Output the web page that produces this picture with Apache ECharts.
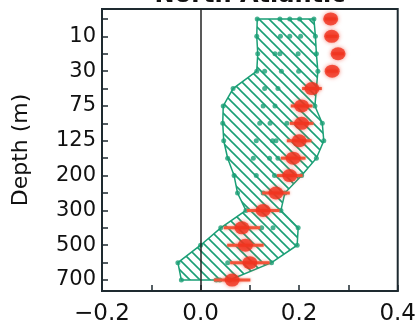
<!DOCTYPE html>
<html><head><meta charset="utf-8">
<script src="https://cdn.jsdelivr.net/npm/echarts@6/dist/echarts.min.js"></script>
<style>html,body{margin:0;padding:0;background:#fff}#c{width:419px;height:328px}</style>
</head><body><div id="c"></div>
<script>
// Depth levels (equally spaced rows), only every other one labelled
const depthLabels = ['5','10','20','30','50','75','100','125','150','200','250','300','400','500','600','700'];
const labelledRows = [1,3,5,7,9,11,13,15];
const xTicks = [-0.2,-0.1,0.0,0.1,0.2,0.3,0.4];
const titleText = 'North Atlantic';
const yName = 'Depth (m)';
// Observed trend per depth row and its error half-width
const obsTrend = [0.264,0.266,0.279,0.267,0.226,0.205,0.205,0.200,0.188,0.181,0.153,0.127,0.084,0.091,0.100,0.064];
const obsError = [0.012,0.012,0.012,0.012,0.020,0.022,0.024,0.025,0.025,0.026,0.028,0.033,0.037,0.037,0.040,0.037];
// Model values per depth row (green dots); envelope = hatched region
const modelTrends = [
 [0.115,0.161,0.181,0.201,0.230],
 [0.114,0.162,0.181,0.203,0.233],
 [0.116,0.151,0.161,0.198,0.235],
 [0.114,0.130,0.164,0.199,0.238],
 [0.066,0.130,0.157,0.235],
 [0.046,0.127,0.151,0.232],
 [0.045,0.120,0.141,0.175,0.247],
 [0.047,0.113,0.146,0.153,0.250],
 [0.055,0.107,0.140,0.157,0.235],
 [0.068,0.113,0.150,0.205],
 [0.075,0.127,0.171],
 [0.092,0.163],
 [0.041,0.124,0.147,0.198],
 [0.000,0.196],
 [-0.046,0.055,0.144],
 [-0.039,0.032,0.039,0.059]
];

const GREEN = '#1a9f76';
const RED = '#f0321e';
const DARK = '#1e2a30';
const FONT = 'DejaVu Sans';

const leftEnv = modelTrends.map(a => Math.min(...a));
const rightEnv = modelTrends.map(a => Math.max(...a));
const dotData = [];
modelTrends.forEach((arr, i) => arr.forEach(v => dotData.push([v, i])));
const obsData = obsTrend.map((v, i) => [v, i]);
const errData = obsTrend.map((v, i) => [v - obsError[i], v + obsError[i], i]);

// hatch pattern tile
const tile = document.createElement('canvas');
const S = 10; tile.width = S; tile.height = S;
const tc = tile.getContext('2d');
tc.strokeStyle = GREEN; tc.lineWidth = 1.6;
[-S, 0, S].forEach(c => { tc.beginPath(); tc.moveTo(-2, -2 + c); tc.lineTo(S + 2, S + 2 + c); tc.stroke(); });

const chart = echarts.init(document.getElementById('c'), null, {renderer: 'canvas'});
chart.setOption({
  animation: false,
  backgroundColor: '#fff',
  grid: {left: 102, right: 21, top: 9, bottom: 37, show: true, borderColor: DARK, borderWidth: 2, backgroundColor: 'transparent'},
  graphic: [{
    type: 'text', x: 250, y: 7.5,
    style: {text: titleText, font: 'bold 24px "DejaVu Sans"', fill: '#111', textAlign: 'center', textVerticalAlign: 'bottom'}
  }],
  xAxis: {
    type: 'value', min: xTicks[0], max: xTicks[xTicks.length - 1], interval: 0.1,
    axisLine: {show: true, onZero: false, lineStyle: {color: DARK, width: 2}},
    axisTick: {show: true, inside: true, length: 6, lineStyle: {color: DARK, width: 1.5}},
    axisLabel: {
      margin: 12, fontSize: 23, fontFamily: FONT, color: '#111',
      formatter: v => (Math.abs(Math.round(v * 10)) % 2 === 0) ? v.toFixed(1).replace('-', '\u2212') : ''
    },
    splitLine: {show: false}
  },
  yAxis: {
    type: 'value', inverse: true, min: -0.57, max: 15.63,
    name: yName, nameLocation: 'middle', nameGap: 70,
    nameTextStyle: {fontSize: 22, fontFamily: FONT, color: '#111'},
    axisLine: {show: true, onZero: false, lineStyle: {color: DARK, width: 2}},
    axisTick: {show: true, inside: true, length: 6, lineStyle: {color: DARK, width: 1.5}, customValues: depthLabels.map((d, i) => i)},
    axisLabel: {
      margin: 6, fontSize: 21, fontFamily: FONT, color: '#111',
      customValues: labelledRows, formatter: v => depthLabels[v] || ''
    },
    splitLine: {show: false}
  },
  series: [
    {
      type: 'custom', z: 1, silent: true, data: [[0, 0]],
      renderItem: (params, api) => {
        const pts = [];
        for (let i = 0; i < leftEnv.length; i++) pts.push(api.coord([leftEnv[i], i]));
        for (let i = rightEnv.length - 1; i >= 0; i--) pts.push(api.coord([rightEnv[i], i]));
        return {type: 'polygon', shape: {points: pts},
          style: {fill: {image: tile, repeat: 'repeat'}, stroke: GREEN, lineWidth: 1.5}};
      }
    },
    {
      type: 'scatter', z: 2, silent: true, data: dotData, symbol: 'circle', symbolSize: 5,
      itemStyle: {color: GREEN},
      markLine: {silent: true, symbol: 'none', label: {show: false},
        lineStyle: {color: '#222', width: 1.5, type: 'solid'}, data: [{xAxis: 0}]}
    },
    {
      type: 'custom', z: 3, silent: true, data: errData,
      renderItem: (params, api) => {
        const a = api.coord([api.value(0), api.value(2)]);
        const b = api.coord([api.value(1), api.value(2)]);
        return {type: 'line', shape: {x1: a[0], y1: a[1], x2: b[0], y2: b[1]},
          style: {stroke: '#f2553a', lineWidth: 3, shadowBlur: 3, shadowColor: 'rgba(240,80,50,0.6)'}};
      }
    },
    {
      type: 'scatter', z: 4, silent: true, data: obsData, symbol: 'circle', symbolSize: [15, 13],
      itemStyle: {color: RED, shadowBlur: 4, shadowColor: 'rgba(240,50,30,0.7)'}
    }
  ]
});
</script></body></html>
